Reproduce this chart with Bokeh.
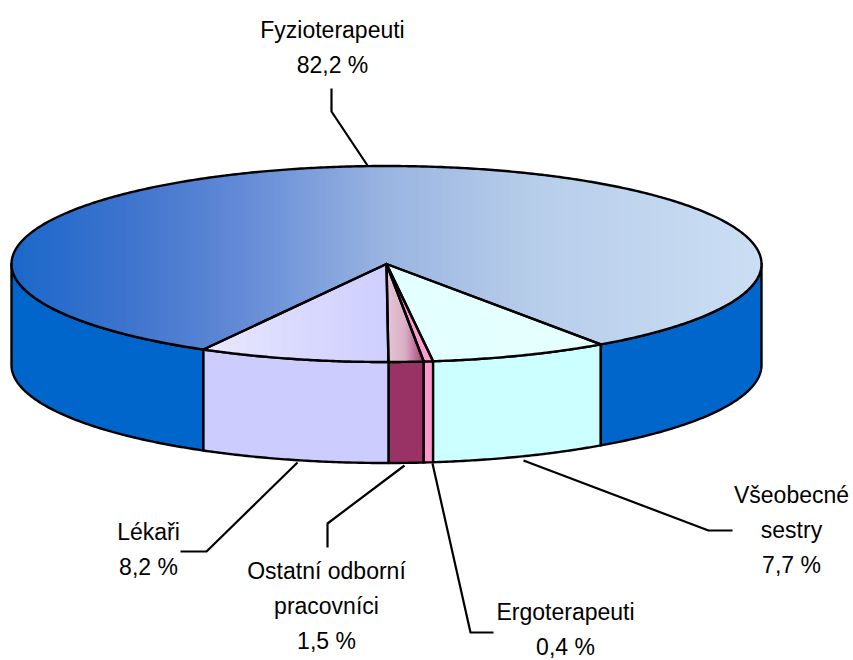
import math
from bokeh.plotting import figure
from bokeh.models import Range1d
from bokeh.core.properties import value
from bokeh.embed import file_html
from bokeh.resources import INLINE

# ---- data: slices start at the front of the pie and run towards the right
categories = ["Ostatní odborní pracovníci", "Ergoterapeuti", "Všeobecné sestry", "Fyzioterapeuti", "Lékaři"]
shares = [1.5, 0.4, 7.7, 82.2, 8.2]
share_labels = ["1,5 %", "0,4 %", "7,7 %", "82,2 %", "8,2 %"]

# ---- layout (reference pixels)
W, H = 853, 660
CX, CY, RX, RY, DEPTH = 386.0, 263.5, 375.0, 98.0, 101.0
START = 89.7

side_colors = ["#993366", "#FF99CC", "#CCFFFF", "#0066CC", "#CCCCFF"]
top_stops = [
    [(0, "#e4c2d4"), (0.5, "#d9abc2"), (0.8, "#b8648e"), (1, "#993366")],
    [(0, "#FF99CC"), (1, "#FF99CC")],
    [(0, "#e2ffff"), (1, "#e5ffff")],
    [(0, "#0f60c8"), (0.15, "#336dcb"), (0.3, "#5a83d4"), (0.5, "#95b1e0"), (0.7, "#b4cbe9"), (1, "#c8ddf3")],
    [(0, "#e8e8ff"), (0.5, "#d8d8ff"), (1, "#ccccff")],
]


def hex_rgb(c):
    return tuple(int(c[i:i + 2], 16) for i in (1, 3, 5))


def ramp(stops, t):
    t = min(1.0, max(0.0, t))
    for (a, ca), (b, cb) in zip(stops, stops[1:]):
        if t <= b:
            f = (t - a) / (b - a)
            ra, rb = hex_rgb(ca), hex_rgb(cb)
            return "#%02x%02x%02x" % tuple(round(u + (v - u) * f) for u, v in zip(ra, rb))
    return stops[-1][1]


def pt(deg, dz=0.0):
    r = math.radians(deg)
    return CX + RX * math.cos(r), CY + RY * math.sin(r) + dz


def arc(a, b, dz=0.0, step=0.5):
    n = max(2, int(abs(b - a) / step) + 1)
    return [pt(a + (b - a) * i / (n - 1), dz) for i in range(n)]


edges = [START]
for s in shares:
    edges.append(edges[-1] - s * 3.6)
slices = [(edges[i], edges[i + 1]) for i in range(len(shares))]

p = figure(width=W, height=H, x_range=Range1d(0, W), y_range=Range1d(H, 0),
           output_backend="svg", toolbar_location=None, min_border=0,
           outline_line_color=None, background_fill_color="white", border_fill_color="white")
p.axis.visible = False
p.grid.visible = False

# sides: only the part of each slice's rim with sin > 0 faces the viewer
sx, sy, sc = [], [], []
for (a, b), col in zip(slices, side_colors):
    lo, hi = min(a, b), max(a, b)
    for shift in (0, 360):
        u, v = max(lo + shift, 0), min(hi + shift, 180)
        if v > u:
            poly = arc(u, v) + arc(v, u, DEPTH)
            sx.append([q[0] for q in poly])
            sy.append([q[1] for q in poly])
            sc.append(col)
p.patches(sx, sy, fill_color=sc, line_color="black", line_width=2.4, line_join="round")

# top: gradient columns
ql, qr, qt, qb, qc = [], [], [], [], []
tops = []
for (a, b), stops in zip(slices, top_stops):
    poly = [(CX, CY)] + arc(a, b)
    tops.append(poly)
    xs = [q[0] for q in poly]
    x0, x1 = min(xs), max(xs)
    for col in range(int(math.floor(x0)), int(math.ceil(x1))):
        x = col + 0.5
        cuts = []
        for (ax, ay), (bx, by) in zip(poly, poly[1:] + poly[:1]):
            if (ax <= x) != (bx <= x):
                cuts.append(ay + (x - ax) / (bx - ax) * (by - ay))
        cuts.sort()
        c = ramp(stops, (x - x0) / max(1e-6, x1 - x0))
        for k in range(0, len(cuts) - 1, 2):
            ql.append(col)
            qr.append(col + 1.4)
            qt.append(cuts[k])
            qb.append(cuts[k + 1])
            qc.append(c)
p.quad(left=ql, right=qr, top=qt, bottom=qb, fill_color=qc, line_color=None)

# top outlines
p.patches([[q[0] for q in t] for t in tops], [[q[1] for q in t] for t in tops],
          fill_color=None, line_color="black", line_width=2.4, line_join="round")

# leaders
leaders_x = [[404, 327, 327], [432, 470, 493], [523, 708, 732], [367, 331, 331], [297, 206, 180]]
leaders_y = [[465, 523, 547], [463, 632, 632], [460, 530, 530], [165, 111, 88], [462, 551, 551]]
p.multi_line(leaders_x, leaders_y, line_color="black", line_width=2.2, line_join="round")

# labels
name_lines = [["Ostatní odborní", "pracovníci"], ["Ergoterapeuti"], ["Všeobecné", "sestry"], ["Fyzioterapeuti"], ["Lékaři"]]
label_x = [326, 565, 791, 332, 148]
label_y = [570, 611, 494, 29, 531]
LEAD = 35
tx, ty, tt = [], [], []
for lines, pct, x, y in zip(name_lines, share_labels, label_x, label_y):
    for i, line in enumerate(lines + [pct]):
        tx.append(x)
        ty.append(y + i * LEAD)
        tt.append(line)
p.text(tx, ty, text=tt, text_font=value("Liberation Sans"), text_font_size="23px",
       text_align="center", text_baseline="middle", text_color="black")

open("out.html", "w").write(file_html(p, INLINE))
